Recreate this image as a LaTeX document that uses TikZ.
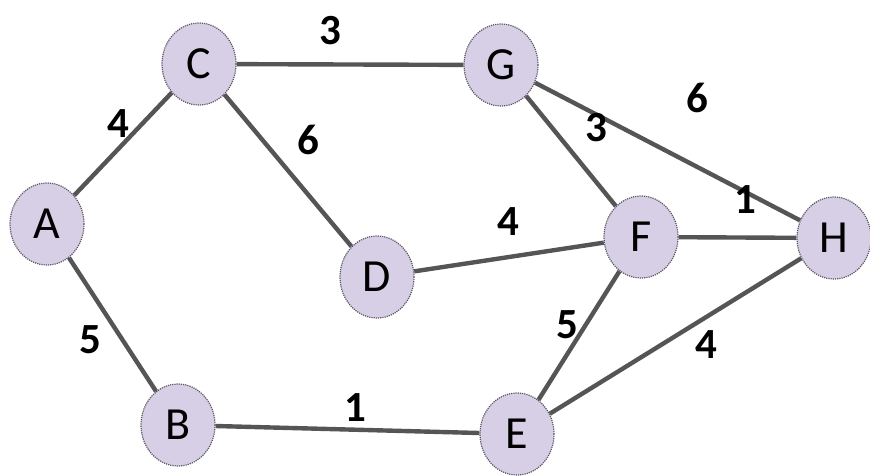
\documentclass[tikz,border=0pt]{standalone}
\usepackage{fontspec}
\setmainfont{Carlito}
\usetikzlibrary{shapes.geometric}
\definecolor{nodefill}{HTML}{D6CFE6}
\definecolor{nodeedge}{HTML}{5A5560}
\definecolor{linkgray}{HTML}{555555}
\tikzset{
  vertex/.style={ellipse, fill=nodefill, draw=nodeedge, densely dotted, line width=1.2pt,
    minimum width=74pt, minimum height=82pt, inner sep=0pt, font=\fontsize{46}{46}\selectfont},
  link/.style={draw=linkgray, line width=4.4pt},
  weight/.style={font=\fontsize{43}{43}\selectfont\bfseries, inner sep=0pt}
}
\begin{document}
\begin{tikzpicture}[x=1pt,y=-1pt]
\useasboundingbox (0,0) rectangle (870,475);
% vertices
\node[vertex] (A) at (47,224) {A};
\node[vertex] (C) at (199,64) {C};
\node[vertex] (G) at (501,65) {G};
\node[vertex] (D) at (377,277) {D};
\node[vertex] (F) at (641,237) {F};
\node[vertex] (H) at (834,238) {H};
\node[vertex] (B) at (178,425) {B};
\node[vertex] (E) at (517,434) {E};
% weighted edges
\draw[link] (A) -- (C);
\draw[link] (A) -- (B);
\draw[link] (C) -- (G);
\draw[link] (C) -- (D);
\draw[link] (G) -- (F);
\draw[link] (G) -- (H);
\draw[link] (D) -- (F);
\draw[link] (F) -- (H);
\draw[link] (F) -- (E);
\draw[link] (E) -- (H);
\draw[link] (B) -- (E);
% edge weights
\node[weight] (wCG) at (330,31) {3};
\node[weight] (wAC) at (118,124) {4};
\node[weight] (wCD) at (308,140) {6};
\node[weight] (wGF) at (596,128) {3};
\node[weight] (wGH) at (697,98) {6};
\node[weight] (wFH) at (745,200) {1};
\node[weight] (wDF) at (508,222) {4};
\node[weight] (wAB) at (90,340) {5};
\node[weight] (wFE) at (567,325) {5};
\node[weight] (wEH) at (706,345) {4};
\node[weight] (wBE) at (355,408) {1};
\end{tikzpicture}
\end{document}
